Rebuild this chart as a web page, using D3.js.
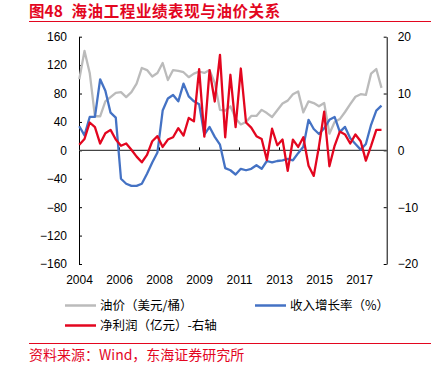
<!DOCTYPE html>
<html>
<head>
<meta charset="utf-8">
<script src="https://cdn.jsdelivr.net/npm/d3@7"></script>
<style>
  body { margin: 0; background: #fff; }
  svg { display: block; }
</style>
</head>
<body>
<div id="chart"></div>
<script>
// data, one value per period
const xLabels = ["2004", "2006", "2008", "2009", "2011", "2013", "2015", "2017"];

// 油价（美元/桶）- left axis
const oilPrice = [100, 140, 109, 48, 48, 69, 75, 81, 82, 75, 82, 94, 116, 113, 104, 109,
  123, 99, 113, 112, 110, 103, 108, 111, 109, 113, 95, 57, 56, 62, 45, 36.5,
  40, 48.5, 48.5, 57, 52.5, 47, 56.5, 66, 70, 79, 83, 53.5, 69, 66.6, 62, 66.6,
  23.5, 40, 44, 54, 65, 75.5, 79, 78, 108, 114.5, 88];

// 收入增长率（%）- left axis
const revenueGrowth = [34, 21, 47, 47, 100, 84, 53, 46, -40, -47, -50, -50, -47, -33, -17, -3,
  56, 73, 78, 69, 94, 76, 69, 65, 22, 33, 19, 8, -25, -28, -34, -26,
  -28, -26, -21, -26, -15, -17, -15, -14, -12, -14, -4, 5, 43, 30, 23, 31,
  43, 47, 26, 33, 17, 9, 1, 9, 36, 56, 63];

// 净利润（亿元）- right axis
const netProfit = [1.0, 2.0, 4.9, 4.1, 1.2, 3.0, 3.6, 1.9, 0.8, 1.2, 0.1, -1.1, -2.1, -0.8, 1.6, 2.5,
  0.6, 1.9, 2.3, 3.9, 2.6, 5.7, 5.1, 14.3, 2.4, 14.1, 8.6, 16.8, 2.3, 13.3, 4.1, 14.4,
  4.9, 4.0, 2.5, 2.0, -1.7, 3.8, 0.9, 1.9, -3.6, 1.9, 0.6, 2.3, -2.7, -4.5, 0.7, 6.8,
  -2.8, 0.8, 3.3, 2.8, 1.2, 2.8, 1.6, -1.8, 0.8, 3.6, 3.6];

const leftTicks = [-160, -120, -80, -40, 0, 40, 80, 120, 160];
const rightTicks = [-20, -10, 0, 10, 20];

const W = 448, H = 366;
const plot = {left: 79, right: 386.7, top: 36.7, bottom: 264};
const RED = "#e3061f", GRAY = "#bbbbbb", BLUE = "#4472c4";
const cjk = "'Noto Sans CJK SC', 'Noto Sans', sans-serif";
const latin = "'Liberation Sans', Arial, sans-serif";

const svg = d3.select("#chart").append("svg")
    .attr("width", W)
    .attr("height", H);

svg.append("rect").attr("width", W).attr("height", H).attr("fill", "#fff");

// title + rules
svg.append("text")
    .attr("x", 29).attr("y", 16.5)
    .attr("font-family", cjk).attr("font-weight", "bold").attr("font-size", 15.5)
    .attr("fill", RED)
    .text("图48");
svg.append("text")
    .attr("x", 71.5).attr("y", 16.5)
    .attr("font-family", cjk).attr("font-weight", "bold").attr("font-size", 15.5)
    .attr("letter-spacing", 0.6)
    .attr("fill", RED)
    .text("海油工程业绩表现与油价关系");
svg.append("line")
    .attr("x1", 29).attr("x2", 431).attr("y1", 21.5).attr("y2", 21.5)
    .attr("stroke", RED).attr("stroke-width", 1);
svg.append("line")
    .attr("x1", 29).attr("x2", 431).attr("y1", 343.5).attr("y2", 343.5)
    .attr("stroke", RED).attr("stroke-width", 1);
svg.append("text")
    .attr("x", 29).attr("y", 360)
    .attr("font-family", cjk).attr("font-size", 14)
    .attr("fill", RED)
    .text("资料来源：Wind，东海证券研究所");

// scales
const xScale = d3.scaleLinear()
    .domain([0, netProfit.length - 1])
    .range([79.3, 381.5]);
const labelScale = d3.scalePoint()
    .domain(xLabels)
    .range([plot.left, plot.left + 280]);
const yL = d3.scaleLinear().domain([-160, 160]).range([plot.bottom, plot.top]);
const yR = d3.scaleLinear().domain([-20, 20]).range([plot.bottom, plot.top]);

// left axis
const gL = svg.append("g")
    .attr("transform", `translate(${plot.left},0)`)
    .call(d3.axisLeft(yL).tickValues(leftTicks).tickSizeInner(-3).tickSizeOuter(0).tickPadding(12));
// right axis
const gR = svg.append("g")
    .attr("transform", `translate(${plot.right},0)`)
    .call(d3.axisRight(yR).tickValues(rightTicks).tickSizeInner(-3).tickSizeOuter(0).tickPadding(11));

[gL, gR].forEach(g => {
    g.select(".domain").attr("stroke", "#000").attr("stroke-width", 1);
    g.selectAll(".tick line").attr("stroke", "#000");
    g.selectAll("text").attr("font-family", latin).attr("font-size", 12).attr("fill", "#000");
});

// zero line with small upward ticks
const gZero = svg.append("g")
    .attr("transform", `translate(0,${yL(0)})`)
    .call(d3.axisTop(labelScale).tickSizeInner(3).tickSizeOuter(0).tickFormat(""));
gZero.select(".domain").remove();
gZero.selectAll(".tick line").attr("stroke", "#000");
svg.append("line")
    .attr("x1", plot.left).attr("x2", plot.right)
    .attr("y1", yL(0)).attr("y2", yL(0))
    .attr("stroke", "#444").attr("stroke-width", 1.3);

// x labels along the bottom
const gX = svg.append("g")
    .attr("transform", `translate(0,${plot.bottom})`)
    .call(d3.axisBottom(labelScale).tickSize(0).tickPadding(11));
gX.select(".domain").remove();
gX.selectAll("text").attr("font-family", latin).attr("font-size", 12).attr("fill", "#000");

// lines
const lineL = d3.line().x((d, i) => xScale(i)).y(d => yL(d));
const lineR = d3.line().x((d, i) => xScale(i)).y(d => yR(d));

svg.append("path").datum(oilPrice)
    .attr("d", lineL).attr("fill", "none")
    .attr("stroke", GRAY).attr("stroke-width", 2.3).attr("stroke-linejoin", "round");
svg.append("path").datum(revenueGrowth)
    .attr("d", lineL).attr("fill", "none")
    .attr("stroke", BLUE).attr("stroke-width", 2.3).attr("stroke-linejoin", "round");
svg.append("path").datum(netProfit)
    .attr("d", lineR).attr("fill", "none")
    .attr("stroke", RED).attr("stroke-width", 2.3).attr("stroke-linejoin", "round");

// legend
const legendItems = [
    {label: "油价（美元/桶）", color: GRAY, x: 65, y: 305.5},
    {label: "收入增长率（%）", color: BLUE, x: 255, y: 305.5},
    {label: "净利润（亿元）-右轴", color: RED, x: 65, y: 325.5}
];
const lg = svg.append("g");
legendItems.forEach(d => {
    lg.append("line")
        .attr("x1", d.x).attr("x2", d.x + 31).attr("y1", d.y).attr("y2", d.y)
        .attr("stroke", d.color).attr("stroke-width", 2.5);
    lg.append("text")
        .attr("x", d.x + 35).attr("y", d.y + 4.5)
        .attr("font-family", cjk).attr("font-size", 12.5).attr("fill", "#000")
        .text(d.label);
});
</script>
</body>
</html>
